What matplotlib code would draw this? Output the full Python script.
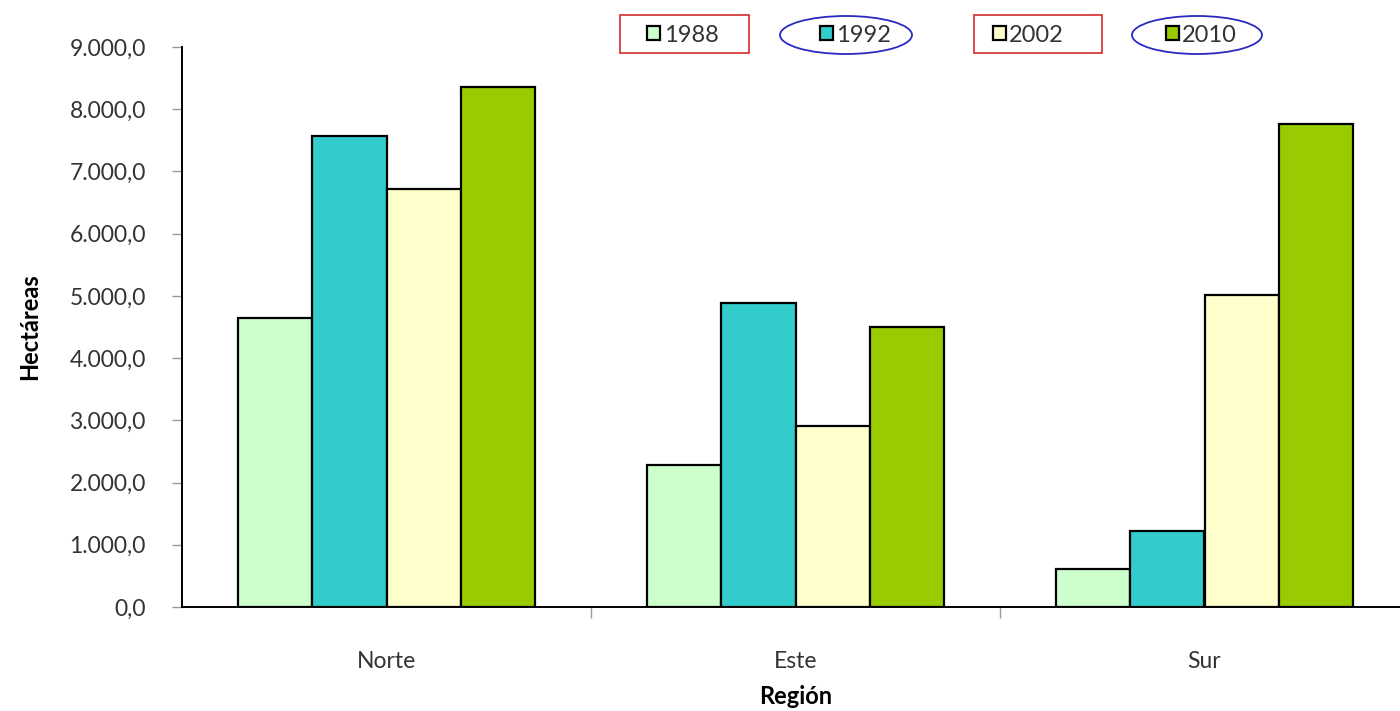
import matplotlib
matplotlib.use("Agg")
import matplotlib.pyplot as plt
from matplotlib.patches import Rectangle, Ellipse
from matplotlib.ticker import FuncFormatter
import numpy as np

regions = ["Norte", "Este", "Sur"]
years = ["1988", "1992", "2002", "2010"]
v1988 = [4650, 2280, 610]
v1992 = [7570, 4880, 1220]
v2002 = [6720, 2910, 5010]
v2010 = [8360, 4500, 7760]
colors = ["#CCFFCC", "#33CCCC", "#FFFFCC", "#99CC00"]
yticks = [0, 1000, 2000, 3000, 4000, 5000, 6000, 7000, 8000, 9000]

W, H = 1400, 711
fig = plt.figure(figsize=(W / 100, H / 100), dpi=100)
plt.rcParams["font.family"] = ["Lato", "DejaVu Sans"]

ax = fig.add_axes([182 / W, (H - 607) / H, 1227 / W, 560 / H])

x = np.arange(len(regions))
bw = 0.182
series = [v1988, v1992, v2002, v2010]
handles = []
for i, (vals, c) in enumerate(zip(series, colors)):
    b = ax.bar(x + (i - 1.5) * bw, vals, width=bw, color=c,
               edgecolor="black", linewidth=1.6, label=years[i], zorder=3)
    handles.append(b)

ax.set_xlim(-0.5, 2.5)
ax.set_ylim(0, 9000)
ax.set_yticks(yticks)


def fmt(v, pos):
    s = f"{int(v):,}".replace(",", ".")
    return s + ",0"


ax.yaxis.set_major_formatter(FuncFormatter(fmt))
ax.set_xticks(x)
ax.set_xticklabels(regions)
ax.set_xticks([0.5, 1.5], minor=True)

for s in ["top", "right"]:
    ax.spines[s].set_visible(False)
ax.spines["left"].set_linewidth(1.4)
ax.spines["bottom"].set_linewidth(1.4)

ax.tick_params(axis="y", direction="out", length=7, width=1, color="#999999",
               labelsize=16.5, labelcolor="#333333", pad=19)
ax.tick_params(axis="x", which="major", length=0, labelsize=16.5,
               labelcolor="#333333", pad=32)
ax.tick_params(axis="x", which="minor", direction="out", length=8, width=1,
               color="#999999")

ax.set_ylabel("Hectáreas", fontsize=17, fontweight="bold", labelpad=20)
ax.set_xlabel("Región", fontsize=17, fontweight="bold", labelpad=9)

leg = fig.legend(handles=handles, labels=years, loc="center left",
                 bbox_to_anchor=(647 / W, 1 - 35 / H), ncol=4, frameon=False,
                 fontsize=17, handlelength=0.55, handleheight=0.55,
                 handletextpad=0.15, columnspacing=4.3, borderaxespad=0,
                 borderpad=0, labelcolor="#333333")

# highlight boxes around legend entries
fig.patches.append(Rectangle((620 / W, 1 - 53 / H), 129 / W, 38 / H,
                             transform=fig.transFigure, fill=False,
                             edgecolor="#d62a2a", linewidth=1.2))
fig.patches.append(Rectangle((974 / W, 1 - 53 / H), 128 / W, 38 / H,
                             transform=fig.transFigure, fill=False,
                             edgecolor="#d62a2a", linewidth=1.2))
fig.patches.append(Ellipse((846 / W, 1 - 35 / H), 132 / W, 38 / H,
                           transform=fig.transFigure, fill=False,
                           edgecolor="#2a2ac0", linewidth=1.3))
fig.patches.append(Ellipse((1197 / W, 1 - 35 / H), 130 / W, 38 / H,
                           transform=fig.transFigure, fill=False,
                           edgecolor="#2a2ac0", linewidth=1.3))

fig.savefig("out.png", dpi=100)
